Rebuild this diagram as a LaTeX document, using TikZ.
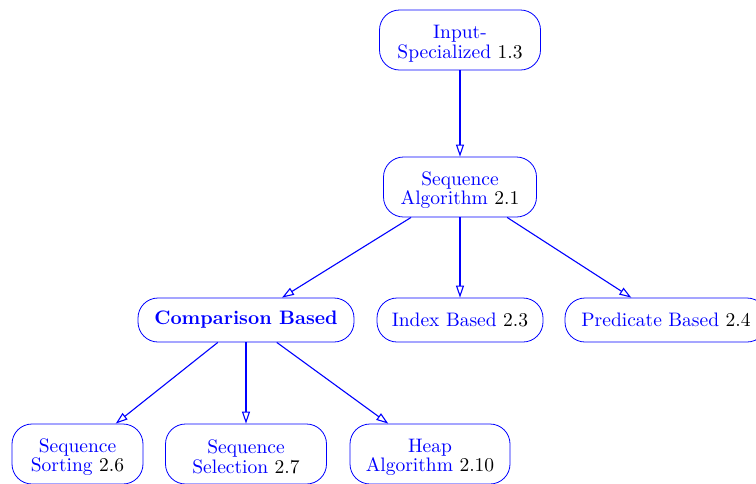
\documentclass[tikz,border=0pt]{standalone}
\usetikzlibrary{arrows.meta}
% extra height on a first line, to sit two-line labels a little lower
\newcommand\firstline{\rule{0pt}{10pt}}
\begin{document}
\begin{tikzpicture}[
  x=0.5pt, y=-0.5pt,
  box/.style={draw=blue, rounded corners=10pt, text=blue, align=center,
    inner xsep=2pt, inner ysep=0pt,
    font=\fontsize{9.75pt}{9.9pt}\selectfont},
  onebox/.style={box, minimum height=22pt},
  twobox/.style={box, minimum height=30pt},
  link/.style={draw=blue, line width=0.55pt,
    -{Triangle[open,length=6pt,width=4pt]}}
]
\useasboundingbox (0,0) rectangle (756,483);

% top level
\node[twobox, minimum width=80.5pt] (input) at (460,40)
  {\firstline Input-\\Specialized \textcolor{black}{1.3}};
\node[twobox, minimum width=76.5pt] (seqalg) at (460,187)
  {\firstline Sequence\\Algorithm \textcolor{black}{2.1}};

% middle level
\node[onebox, minimum width=108pt] (comp) at (246,320)
  {\bfseries Comparison Based};
\node[onebox, minimum width=83pt] (index) at (460,320)
  {Index Based \textcolor{black}{2.3}};
\node[onebox, minimum width=101pt] (pred) at (666,320)
  {Predicate Based \textcolor{black}{2.4}};

% bottom level
\node[twobox, minimum width=65.5pt] (sort) at (77.5,454)
  {\firstline Sequence\\Sorting \textcolor{black}{2.6}};
\node[twobox, minimum width=80.5pt] (select) at (246,454)
  {\firstline Sequence\\Selection \textcolor{black}{2.7}};
\node[twobox, minimum width=80pt] (heap) at (430,454)
  {\firstline Heap\\Algorithm \textcolor{black}{2.10}};

% connectors
\draw[link] (input) -- (seqalg);
\draw[link] (seqalg) -- (comp);
\draw[link] (seqalg) -- (index);
\draw[link] (seqalg) -- (pred);
\draw[link] (comp) -- (sort);
\draw[link] (comp) -- (select);
\draw[link] (comp) -- (heap);
\end{tikzpicture}
\end{document}
